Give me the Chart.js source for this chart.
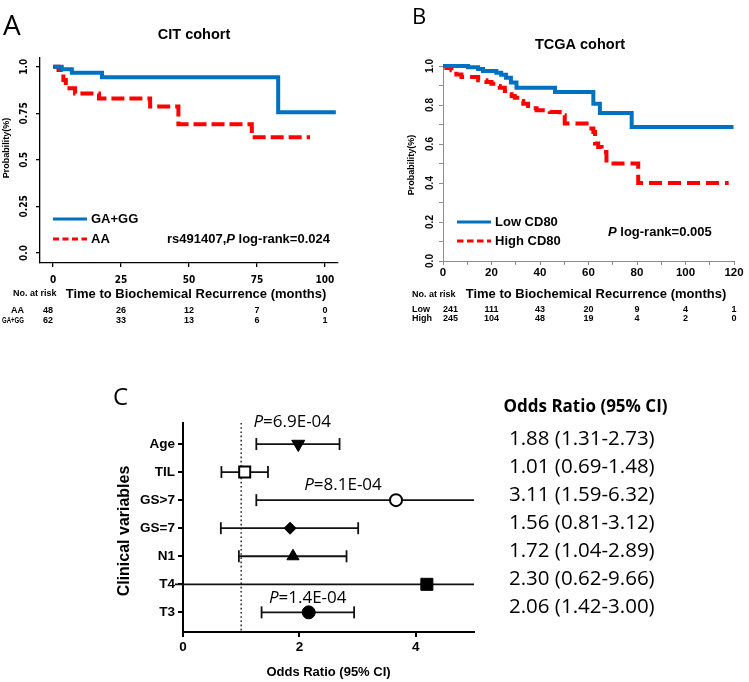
<!DOCTYPE html>
<html>
<head>
<meta charset="utf-8">
<title>Biochemical recurrence: survival curves and odds ratios</title>
<script src="https://cdn.jsdelivr.net/npm/chart.js@4.4.1/dist/chart.umd.min.js"></script>
<style>
  html, body { margin: 0; padding: 0; background: #fff; }
  #page { position: relative; width: 749px; height: 682px; overflow: hidden; }
  canvas { position: absolute; }
</style>
</head>
<body>
<div id="page">
  <canvas id="chartA" width="372" height="330" style="left:0;top:0"></canvas>
  <canvas id="chartB" width="377" height="330" style="left:372px;top:0"></canvas>
  <canvas id="chartC" width="749" height="352" style="left:0;top:330px"></canvas>
</div>
<script>
const SANS = "'Liberation Sans', Arial, sans-serif";
const NARROW = "'Liberation Sans Narrow', 'DejaVu Sans Condensed', 'Liberation Sans', sans-serif";
const SOFT = "'Open Sans', 'Noto Sans', sans-serif";
const BLUE = '#0070c0';
const RED = '#ff0000';

Chart.defaults.font.family = SANS;
Chart.defaults.color = '#000';

// Panel A - CIT cohort, rs491407
const citXTicks = [0, 25, 50, 75, 100];
const citYLabels = ['0.0', '0.25', '0.5', '0.75', '1.0'];
const ggTime = [0, 3.2, 6.9, 18, 82.8, 104];
const ggSurv = [1, 0.986, 0.968, 0.943, 0.755, 0.755];
const aaTime = [0, 2, 3.8, 4.7, 8.1, 16.9, 35.7, 46.1, 73.1, 94.5];
const aaSurv = [1, 0.982, 0.929, 0.884, 0.857, 0.83, 0.786, 0.691, 0.622, 0.622];
const aaRisk = [48, 26, 12, 7, 0];
const ggRisk = [62, 33, 13, 6, 1];

// Panel B - TCGA cohort, CD80
const tcgaXTicks = [0, 10, 20, 30, 40, 50, 60, 70, 80, 90, 100, 110, 120];
const tcgaRiskTicks = [0, 20, 40, 60, 80, 100, 120];
const tcgaYTicks = [0, 0.1, 0.2, 0.3, 0.4, 0.5, 0.6, 0.7, 0.8, 0.9, 1];
const tcgaYLabels = ['0.0', '0.2', '0.4', '0.6', '0.8', '1.0'];
const lowTime = [0, 10.3, 14.5, 16.5, 22, 24, 26, 28, 30.3, 46.2, 62, 64.7, 77.8, 119.8];
const lowSurv = [1, 0.993, 0.985, 0.975, 0.965, 0.955, 0.94, 0.915, 0.889, 0.867, 0.807, 0.759, 0.687, 0.687];
const highTime = [0, 1.4, 3.5, 5.5, 7.6, 14.5, 17.9, 20, 22.1, 23.4, 25.5, 26.9, 28.3, 29.6, 31.7, 33.1,
  35.1, 36.5, 38.6, 44, 48.1, 50.2, 59.2, 62, 62.7, 64, 65.4, 67.4, 80.5, 117.8];
const highSurv = [1, 0.99, 0.978, 0.957, 0.944, 0.927, 0.918, 0.909, 0.897, 0.889, 0.872, 0.855, 0.846, 0.837, 0.82, 0.807,
  0.795, 0.783, 0.773, 0.764, 0.747, 0.705, 0.679, 0.662, 0.602, 0.585, 0.559, 0.5, 0.4, 0.4];
const lowRisk = [241, 111, 43, 20, 9, 4, 1];
const highRisk = [245, 104, 48, 19, 4, 2, 0];

// Panel C - forest plot
const variables = ['Age', 'TIL', 'GS>7', 'GS=7', 'N1', 'T4', 'T3'];
const orPoint = [1.98, 1.06, 3.66, 1.84, 1.89, 4.19, 2.16];
const orLow = [1.26, 0.66, 1.26, 0.65, 0.96, -0.14, 1.35];
const orHigh = [2.69, 1.46, 6.32, 3.01, 2.81, 9.66, 2.94];
const orText = ['1.88 (1.31-2.73)', '1.01 (0.69-1.48)', '3.11 (1.59-6.32)', '1.56 (0.81-3.12)',
  '1.72 (1.04-2.89)', '2.30 (0.62-9.66)', '2.06 (1.42-3.00)'];
const pValues = ['6.9E-04', null, '8.1E-04', null, null, null, '1.4E-04'];
const orXTicks = [0, 2, 4];
const orMax = 5;

function pts(times, surv) {
  return times.map((t, i) => ({ x: t, y: surv[i] }));
}

function put(ctx, s, x, y, font, align = 'left', base = 'middle', maxWidth) {
  ctx.save();
  ctx.font = font;
  ctx.fillStyle = '#000';
  ctx.textAlign = align;
  ctx.textBaseline = base;
  if (maxWidth) ctx.fillText(s, x, y, maxWidth);
  else ctx.fillText(s, x, y);
  ctx.restore();
}

function putUp(ctx, s, x, y, font) {
  ctx.save();
  ctx.translate(x, y);
  ctx.rotate(-Math.PI / 2);
  put(ctx, s, 0, 0, font, 'center');
  ctx.restore();
}

// runs of [text, font], laid left to right
function putRuns(ctx, runs, x, y, align = 'left') {
  ctx.save();
  let total = 0;
  runs.forEach(([s, f]) => { ctx.font = f; total += ctx.measureText(s).width; });
  if (align === 'center') x -= total / 2;
  runs.forEach(([s, f]) => {
    put(ctx, s, x, y, f);
    ctx.font = f;
    x += ctx.measureText(s).width;
  });
  ctx.restore();
}

function kmExtras(o) {
  return {
    id: 'kmExtras',
    afterDraw(chart) {
      const ctx = chart.ctx, xs = chart.scales.x, ys = chart.scales.y;
      put(ctx, o.letter, o.letterPos[0], o.letterPos[1], o.letterFont, 'left', 'alphabetic');
      put(ctx, o.title, o.titlePos[0], o.titlePos[1], `bold 14.5px ${SANS}`, 'center');
      o.yLabels.forEach(l => putUp(ctx, l, o.yLabelX, ys.getPixelForValue(parseFloat(l)), o.yLabelFont));
      putUp(ctx, 'Probability(%)', o.yTitlePos[0], o.yTitlePos[1], `bold 9px ${SANS}`);

      o.legend.forEach((g, i) => {
        const y = o.legendY[i];
        ctx.save();
        ctx.strokeStyle = g.color;
        ctx.lineWidth = 3;
        ctx.setLineDash(g.dash);
        ctx.beginPath();
        ctx.moveTo(o.legendX[0], y);
        ctx.lineTo(o.legendX[1], y);
        ctx.stroke();
        ctx.restore();
        put(ctx, g.label, o.legendX[2], y, `bold 13px ${SANS}`);
      });
      putRuns(ctx, [[o.testPrefix, `bold 13px ${SANS}`], ['P', `italic bold 13px ${SANS}`],
        [' log-rank=' + o.pValue, `bold 13px ${SANS}`]], o.testPos[0], o.testPos[1]);

      put(ctx, 'Time to Biochemical Recurrence (months)', o.xTitlePos[0], o.xTitlePos[1], `bold 13px ${SANS}`, 'center');
      put(ctx, 'No. at risk', o.riskHead[0], o.riskHead[1], `bold 9px ${SANS}`);
      o.risk.forEach((r, k) => {
        const y = o.riskY[k];
        put(ctx, r.name, o.riskNameX, y, `bold 9px ${SANS}`, o.riskNameAlign, 'middle', o.riskNameMax);
        r.values.forEach((v, i) => {
          put(ctx, String(v), xs.getPixelForValue(o.riskTicks[i]), y, `bold 9px ${SANS}`, i === 0 ? o.firstAlign : 'center');
        });
      });
    }
  };
}

function axis(color, width, tick) {
  return {
    border: { color: color, width: width },
    grid: { drawOnChartArea: false, color: color, lineWidth: width, tickLength: tick }
  };
}

const base = {
  responsive: false,
  animation: false,
  events: [],
  plugins: { legend: { display: false }, tooltip: { enabled: false } }
};

// A
new Chart(document.getElementById('chartA'), {
  type: 'line',
  data: {
    datasets: [
      { data: pts(ggTime, ggSurv), borderColor: BLUE, borderWidth: 4, stepped: true, pointRadius: 0 },
      { data: pts(aaTime, aaSurv), borderColor: RED, borderWidth: 4, borderDash: [13, 5], stepped: true, pointRadius: 0 }
    ]
  },
  options: {
    ...base,
    layout: { padding: { left: 0, top: 58, right: 34, bottom: 0 } },
    scales: {
      x: {
        type: 'linear', min: -4.8, max: 104.8, ...axis('#000', 1.3, 4),
        afterBuildTicks: s => { s.ticks = citXTicks.map(v => ({ value: v })); },
        afterFit: s => { s.height = 67; },
        ticks: { font: { family: NARROW, size: 10, weight: 'bold' }, padding: 7, maxRotation: 0, autoSkip: false }
      },
      y: {
        min: -0.054, max: 1.047, ...axis('#000', 1.3, 4),
        afterBuildTicks: s => { s.ticks = citYLabels.map(l => ({ value: parseFloat(l) })); },
        afterFit: s => { s.width = 40; },
        ticks: { display: false }
      }
    }
  },
  plugins: [kmExtras({
    letter: 'A', letterPos: [3, 35], letterFont: `28px ${SOFT}`,
    title: 'CIT cohort', titlePos: [194, 35],
    yLabels: citYLabels, yLabelX: 24, yLabelFont: `bold 10px ${NARROW}`,
    yTitlePos: [7, 148],
    legend: [{ label: 'GA+GG', color: BLUE, dash: [] }, { label: 'AA', color: RED, dash: [6, 3.5] }],
    legendX: [53, 87, 91], legendY: [219, 239],
    testPrefix: 'rs491407,', pValue: '0.024', testPos: [167, 239],
    xTitlePos: [196, 294],
    riskHead: [13, 294],
    risk: [{ name: 'AA', values: aaRisk }, { name: 'GA+GG', values: ggRisk }],
    riskTicks: citXTicks, riskY: [311, 321], riskNameX: 24, riskNameAlign: 'right', riskNameMax: 22,
    firstAlign: 'right'
  })]
});

// B
new Chart(document.getElementById('chartB'), {
  type: 'line',
  data: {
    datasets: [
      { data: pts(lowTime, lowSurv), borderColor: BLUE, borderWidth: 4, stepped: true, pointRadius: 0, clip: 4 },
      { data: pts(highTime, highSurv), borderColor: RED, borderWidth: 4, borderDash: [13, 6], stepped: true, pointRadius: 0, clip: 4 }
    ]
  },
  options: {
    ...base,
    layout: { padding: { left: 0, top: 66, right: 15, bottom: 0 } },
    scales: {
      x: {
        type: 'linear', min: 0, max: 120, ...axis('#8c8c8c', 1, 4),
        afterBuildTicks: s => { s.ticks = tcgaXTicks.map(v => ({ value: v })); },
        afterFit: s => { s.height = 69; },
        ticks: {
          font: { size: 11.5, weight: 'bold' }, padding: 1, maxRotation: 0, autoSkip: false,
          callback: v => (tcgaRiskTicks.includes(v) ? String(v) : '')
        }
      },
      y: {
        min: 0, max: 1, ...axis('#8c8c8c', 1, 4),
        afterBuildTicks: s => { s.ticks = tcgaYTicks.map(v => ({ value: v })); },
        afterFit: s => { s.width = 71; },
        ticks: { display: false }
      }
    }
  },
  plugins: [kmExtras({
    letter: 'B', letterPos: [40, 24], letterFont: `22px ${SOFT}`,
    title: 'TCGA cohort', titlePos: [208, 45],
    yLabels: tcgaYLabels, yLabelX: 58, yLabelFont: `bold 10px ${SANS}`,
    yTitlePos: [39.5, 165],
    legend: [{ label: 'Low CD80', color: BLUE, dash: [] }, { label: 'High CD80', color: RED, dash: [6.5, 3.5] }],
    legendX: [85, 119, 123], legendY: [222, 241],
    testPrefix: '', pValue: '0.005', testPos: [236, 232],
    xTitlePos: [224, 294],
    riskHead: [40, 295],
    risk: [{ name: 'Low', values: lowRisk }, { name: 'High', values: highRisk }],
    riskTicks: tcgaRiskTicks, riskY: [310, 318.5], riskNameX: 40, riskNameAlign: 'left', riskNameMax: 0,
    firstAlign: 'left'
  })]
});

// C
const rowY = i => variables.length - i; // Age on top

const markerStyle = ['triangle', 'rect', 'circle', 'rectRot', 'triangle', 'rect', 'circle'];
const markerRot = [180, 0, 0, 0, 0, 0, 0];
const markerSize = [7.5, 7.8, 6, 6, 7, 8.5, 6.5];
const markerFill = ['#000', '#fff', '#fff', '#000', '#000', '#000', '#000'];
const markerEdge = [1, 2, 2, 1, 1, 1, 1];

const ciSets = variables.map((v, i) => ({
  data: [{ x: orLow[i], y: rowY(i) }, { x: orHigh[i], y: rowY(i) }],
  showLine: true,
  borderColor: '#111',
  borderWidth: 1.8,
  pointStyle: 'line',
  pointRotation: 90,
  pointRadius: [orLow[i] >= 0 ? 6 : 0, orHigh[i] <= orMax ? 6 : 0],
  pointBorderColor: '#111',
  pointBorderWidth: 1.8,
  clip: { left: 10, top: 0, right: 0, bottom: 0 },
  order: 1
}));

const pNotePlace = { 0: [-6, -22], 2: [-53, -14.5], 6: [-1, -14.5] };

const forestExtras = {
  id: 'forestExtras',
  beforeDatasetsDraw(chart) {
    const ctx = chart.ctx, xs = chart.scales.x, a = chart.chartArea;
    const x = xs.getPixelForValue(1);
    ctx.save();
    ctx.strokeStyle = '#333';
    ctx.lineWidth = 1.6;
    ctx.setLineDash([1.6, 2.6]);
    ctx.beginPath();
    ctx.moveTo(x, a.top);
    ctx.lineTo(x, a.bottom);
    ctx.stroke();
    ctx.restore();
  },
  afterDraw(chart) {
    const ctx = chart.ctx, xs = chart.scales.x, ys = chart.scales.y;
    put(ctx, 'C', 113, 75, `24px ${SOFT}`, 'left', 'alphabetic');
    putUp(ctx, 'Clinical variables', 125, 201, `bold 16px ${SANS}`);
    put(ctx, 'Odds Ratio (95% CI)', 585.5, 77.5, `bold 17px ${SOFT}`, 'center');
    orText.forEach((t, i) => put(ctx, t, 509, ys.getPixelForValue(rowY(i)) - 5, `20.5px ${SOFT}`));
    pValues.forEach((p, i) => {
      if (!p) return;
      const [dx, dy] = pNotePlace[i];
      putRuns(ctx, [['P', `italic 17px ${SOFT}`], ['=' + p, `17px ${SOFT}`]],
        xs.getPixelForValue(orPoint[i]) + dx, ys.getPixelForValue(rowY(i)) + dy, 'center');
    });
  }
};

new Chart(document.getElementById('chartC'), {
  type: 'scatter',
  data: {
    datasets: [
      {
        data: variables.map((v, i) => ({ x: orPoint[i], y: rowY(i) })),
        pointStyle: markerStyle,
        pointRotation: markerRot,
        pointRadius: markerSize,
        pointBackgroundColor: markerFill,
        pointBorderColor: '#000',
        pointBorderWidth: markerEdge,
        order: 0
      },
      ...ciSets
    ]
  },
  options: {
    ...base,
    layout: { padding: { left: 0, top: 93, right: 275, bottom: 0 } },
    scales: {
      x: {
        type: 'linear', min: 0, max: orMax, ...axis('#000', 2, 5),
        afterBuildTicks: s => { s.ticks = orXTicks.map(v => ({ value: v })); },
        afterFit: s => { s.height = 50; },
        ticks: { font: { size: 13.5, weight: 'bold' }, padding: 2, maxRotation: 0 },
        title: { display: true, text: 'Odds Ratio (95% CI)', font: { size: 13, weight: 'bold' }, padding: { top: 0, bottom: 2 } }
      },
      y: {
        min: 0.3, max: 7.75, ...axis('#000', 2, 5),
        afterBuildTicks: s => { s.ticks = variables.map((v, i) => ({ value: rowY(i) })); },
        afterFit: s => { s.width = 183; },
        ticks: { font: { size: 13.5, weight: 'bold' }, padding: 3, autoSkip: false, callback: v => variables[variables.length - v] }
      }
    }
  },
  plugins: [forestExtras]
});
</script>
</body>
</html>
